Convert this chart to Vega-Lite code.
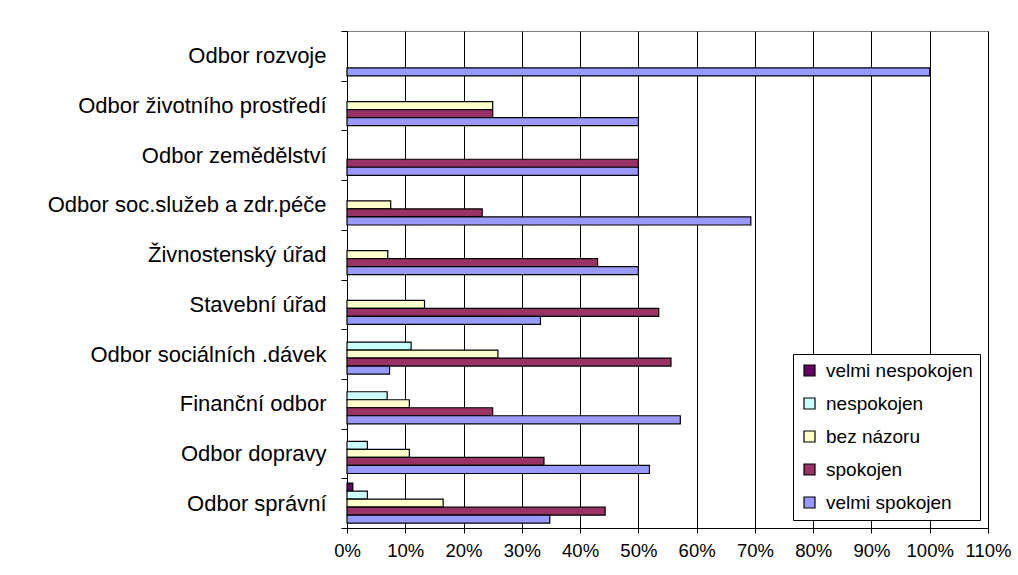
{
  "$schema": "https://vega.github.io/schema/vega-lite/v6.json",
  "width": 641,
  "height": 497,
  "autosize": {"type": "none"},
  "padding": {"left": 347, "top": 31, "right": 30, "bottom": 47},
  "background": "white",
  "config": {
    "font": "Liberation Sans",
    "view": {"stroke": "#808080", "strokeWidth": 1}
  },
  "data": {
    "values": [
      {"odbor": "Odbor rozvoje", "hodnoceni": "velmi spokojen", "podil": 1.0},
      {"odbor": "Odbor životního prostředí", "hodnoceni": "bez názoru", "podil": 0.25},
      {"odbor": "Odbor životního prostředí", "hodnoceni": "spokojen", "podil": 0.25},
      {"odbor": "Odbor životního prostředí", "hodnoceni": "velmi spokojen", "podil": 0.5},
      {"odbor": "Odbor zemědělství", "hodnoceni": "spokojen", "podil": 0.5},
      {"odbor": "Odbor zemědělství", "hodnoceni": "velmi spokojen", "podil": 0.5},
      {"odbor": "Odbor soc.služeb a zdr.péče", "hodnoceni": "bez názoru", "podil": 0.075},
      {"odbor": "Odbor soc.služeb a zdr.péče", "hodnoceni": "spokojen", "podil": 0.232},
      {"odbor": "Odbor soc.služeb a zdr.péče", "hodnoceni": "velmi spokojen", "podil": 0.693},
      {"odbor": "Živnostenský úřad", "hodnoceni": "bez názoru", "podil": 0.07},
      {"odbor": "Živnostenský úřad", "hodnoceni": "spokojen", "podil": 0.43},
      {"odbor": "Živnostenský úřad", "hodnoceni": "velmi spokojen", "podil": 0.5},
      {"odbor": "Stavební úřad", "hodnoceni": "bez názoru", "podil": 0.133},
      {"odbor": "Stavební úřad", "hodnoceni": "spokojen", "podil": 0.535},
      {"odbor": "Stavební úřad", "hodnoceni": "velmi spokojen", "podil": 0.332},
      {"odbor": "Odbor sociálních .dávek", "hodnoceni": "nespokojen", "podil": 0.11},
      {"odbor": "Odbor sociálních .dávek", "hodnoceni": "bez názoru", "podil": 0.259},
      {"odbor": "Odbor sociálních .dávek", "hodnoceni": "spokojen", "podil": 0.556},
      {"odbor": "Odbor sociálních .dávek", "hodnoceni": "velmi spokojen", "podil": 0.073},
      {"odbor": "Finanční odbor", "hodnoceni": "nespokojen", "podil": 0.069},
      {"odbor": "Finanční odbor", "hodnoceni": "bez názoru", "podil": 0.107},
      {"odbor": "Finanční odbor", "hodnoceni": "spokojen", "podil": 0.25},
      {"odbor": "Finanční odbor", "hodnoceni": "velmi spokojen", "podil": 0.572},
      {"odbor": "Odbor dopravy", "hodnoceni": "nespokojen", "podil": 0.035},
      {"odbor": "Odbor dopravy", "hodnoceni": "bez názoru", "podil": 0.107},
      {"odbor": "Odbor dopravy", "hodnoceni": "spokojen", "podil": 0.338},
      {"odbor": "Odbor dopravy", "hodnoceni": "velmi spokojen", "podil": 0.519},
      {"odbor": "Odbor správní", "hodnoceni": "velmi nespokojen", "podil": 0.01},
      {"odbor": "Odbor správní", "hodnoceni": "nespokojen", "podil": 0.035},
      {"odbor": "Odbor správní", "hodnoceni": "bez názoru", "podil": 0.165},
      {"odbor": "Odbor správní", "hodnoceni": "spokojen", "podil": 0.443},
      {"odbor": "Odbor správní", "hodnoceni": "velmi spokojen", "podil": 0.348}
    ]
  },
  "mark": {"type": "bar", "stroke": "black", "strokeWidth": 1.2},
  "encoding": {
    "y": {
      "field": "odbor",
      "type": "nominal",
      "sort": ["Odbor rozvoje", "Odbor životního prostředí", "Odbor zemědělství", "Odbor soc.služeb a zdr.péče", "Živnostenský úřad", "Stavební úřad", "Odbor sociálních .dávek", "Finanční odbor", "Odbor dopravy", "Odbor správní"],
      "scale": {"paddingInner": 0, "paddingOuter": 0},
      "axis": {
        "title": null,
        "tickBand": "extent",
        "labelFontSize": 22,
        "labelColor": "black",
        "labelLimit": 340,
        "labelPadding": 15,
        "labelOverlap": false,
        "tickColor": "black",
        "tickSize": 6,
        "domainColor": "black",
        "grid": false
      }
    },
    "yOffset": {
      "field": "hodnoceni",
      "type": "nominal",
      "sort": ["velmi nespokojen", "nespokojen", "bez názoru", "spokojen", "velmi spokojen"],
      "scale": {"paddingInner": 0, "paddingOuter": 0.6}
    },
    "x": {
      "field": "podil",
      "type": "quantitative",
      "scale": {"domain": [0, 1.1], "nice": false},
      "axis": {
        "title": null,
        "format": ".0%",
        "values": [0, 0.1, 0.2, 0.3, 0.4, 0.5, 0.6, 0.7, 0.8, 0.9, 1.0, 1.1],
        "labelOverlap": false,
        "labelFlush": false,
        "grid": true,
        "gridColor": "black",
        "gridOpacity": 1,
        "labelFontSize": 18.5,
        "labelColor": "black",
        "labelPadding": 8,
        "tickColor": "black",
        "tickSize": 5,
        "domainColor": "black"
      }
    },
    "color": {
      "field": "hodnoceni",
      "type": "nominal",
      "scale": {
        "domain": ["velmi nespokojen", "nespokojen", "bez názoru", "spokojen", "velmi spokojen"],
        "range": ["#660066", "#CCFFFF", "#FFFFCC", "#993366", "#9999FF"]
      },
      "legend": {
        "title": null,
        "orient": "bottom-right",
        "offset": 8,
        "symbolType": "square",
        "symbolSize": 121,
        "symbolStrokeColor": "black",
        "symbolStrokeWidth": 1.2,
        "symbolOpacity": 1,
        "labelFontSize": 19,
        "labelColor": "black",
        "labelOffset": 7,
        "labelLimit": 300,
        "rowPadding": 13,
        "padding": 7,
        "strokeColor": "black",
        "fillColor": "white"
      }
    }
  }
}
